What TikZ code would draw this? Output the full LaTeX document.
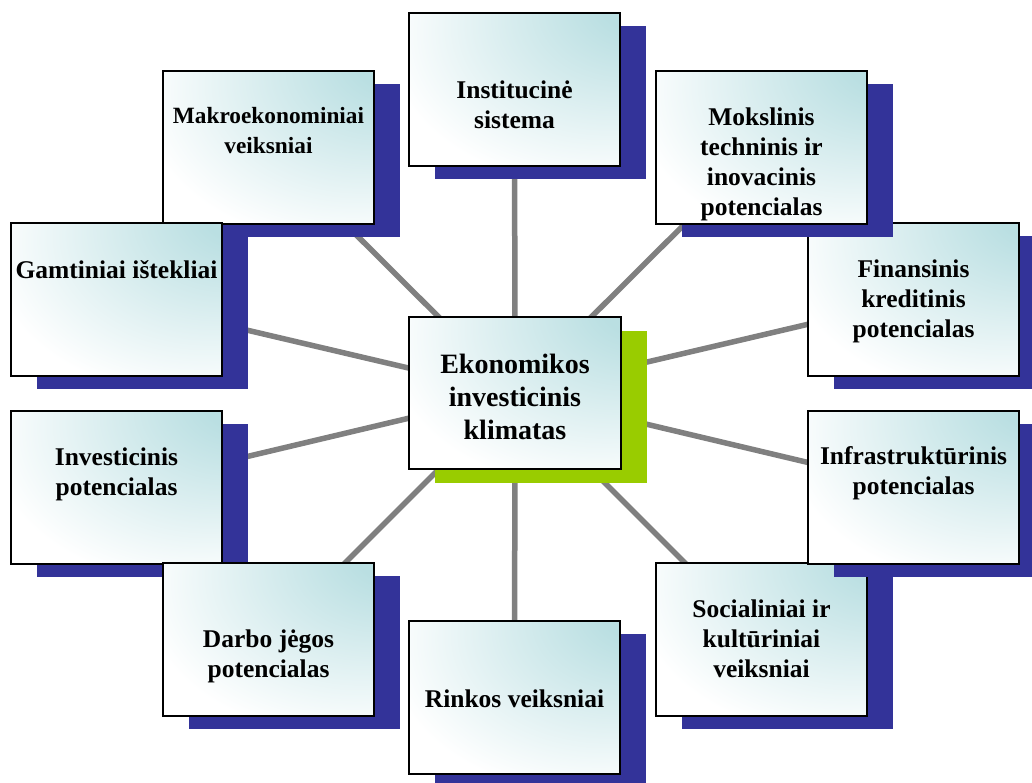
\documentclass[tikz,border=0pt]{standalone}
\usepackage{fontspec}
\setmainfont{Liberation Serif}
\usetikzlibrary{backgrounds,shadings}
\definecolor{shadowblue}{HTML}{333399}
\definecolor{shadowgreen}{HTML}{99CC00}
\definecolor{boxteal}{HTML}{BADFE2}
\definecolor{linkgray}{HTML}{808080}
\pgfdeclareradialshading{boxshade}{\pgfpoint{34bp}{32bp}}{%
  color(0bp)=(boxteal); color(10bp)=(boxteal); color(48bp)=(white); color(100bp)=(white)}
\tikzset{
  boxstyle/.style={draw=black, line width=2pt, minimum width=211pt, minimum height=153pt,
    inner sep=0pt, outer sep=0pt, shading=boxshade},
  txt/.style={align=center, inner sep=0pt, font=\fontsize{25.5}{30}\selectfont\bfseries},
  link/.style={draw=linkgray, line width=5.5pt}
}
% name, left x, top y, baseline y of last line, text, shadow colour
\newcommand\mybox[6]{%
  \fill[#6] (#2+26,#3+13) rectangle ++(211,153);
  \node[boxstyle, anchor=north west] (#1) at (#2,#3) {};
  \node[txt, anchor=base] (#1-t) at (#2+105.5,#4) {#5};
}
\begin{document}
\begin{tikzpicture}[x=1pt,y=-1pt]
\useasboundingbox (0,0) rectangle (1032,782);
% left side (upper first)
\mybox{makro}{163}{71}{153}{{\fontsize{23.3}{30}\selectfont Makroekonominiai}\\{\fontsize{23.3}{30}\selectfont veiksniai}}{shadowblue}
\mybox{gamt}{11}{223}{278}{Gamtiniai ištekliai}{shadowblue}
\mybox{inv}{11}{411}{495}{Investicinis\\potencialas}{shadowblue}
\mybox{darbo}{163}{563}{677}{Darbo jėgos\\potencialas}{shadowblue}
% top and bottom
\mybox{inst}{409}{13}{128}{Institucinė\\sistema}{shadowblue}
\mybox{rink}{409}{621}{707}{Rinkos veiksniai}{shadowblue}
% right side (lower first)
\mybox{soc}{656}{563}{677}{Socialiniai ir\\kultūriniai\\veiksniai}{shadowblue}
\mybox{infra}{808}{411}{494}{Infrastruktūrinis\\potencialas}{shadowblue}
\mybox{fin}{808}{223}{337}{Finansinis\\kreditinis\\potencialas}{shadowblue}
\mybox{moks}{656}{71}{215}{Mokslinis\\techninis ir\\inovacinis\\potencialas}{shadowblue}
% centre
\fill[shadowgreen] (409+26,317+14) rectangle ++(212,152);
\node[boxstyle, anchor=north west, minimum width=212pt, minimum height=152pt] (c) at (409,317) {};
\node[txt, anchor=base, font=\fontsize{28}{33}\selectfont\bfseries] (c-t) at (515,439) {Ekonomikos\\investicinis\\klimatas};
\begin{pgfonlayer}{background}
  \fill[white] (0,0) rectangle (1032,782);
  \foreach \b in {inst,moks,fin,infra,soc,rink,darbo,inv,gamt,makro}
    \draw[link] (c.center) -- (\b.center);
\end{pgfonlayer}
\end{tikzpicture}
\end{document}
